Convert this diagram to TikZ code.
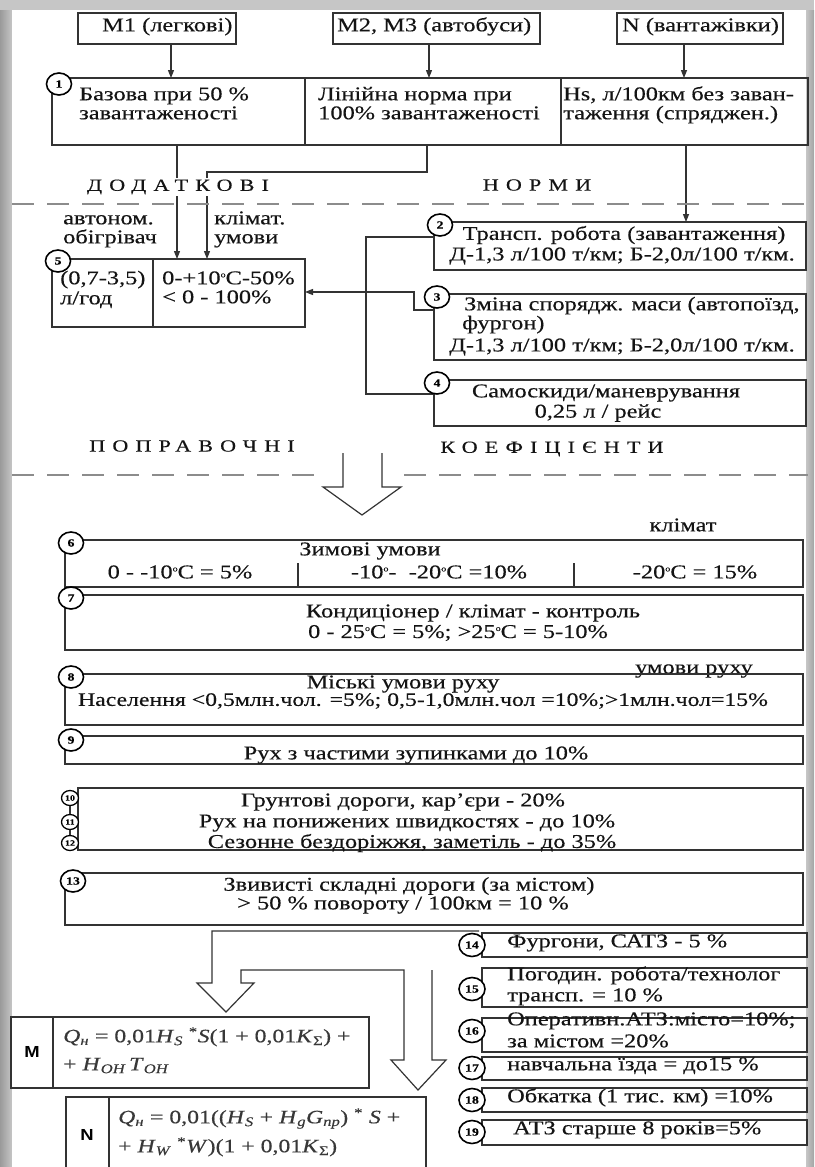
\documentclass[tikz,border=0pt]{standalone}
\usepackage{fontspec}
\setmainfont{Liberation Serif}[FakeStretch=1.25, FakeBold=0.3]
\newfontfamily\headfam{Liberation Serif}[FakeStretch=1.3, FakeBold=0.3, LetterSpace=42]
\newfontfamily\sansfam{Liberation Sans}[FakeStretch=1.15]
\usetikzlibrary{shapes.geometric, arrows.meta}

\definecolor{lineclr}{HTML}{333333}
\definecolor{inkclr}{HTML}{141414}
\definecolor{dashclr}{HTML}{8C8C8C}
\definecolor{greyband}{HTML}{C6C6C6}
\definecolor{greydark}{HTML}{9A9A9A}
\definecolor{mathclr}{HTML}{383838}

\newcommand\fsz[1]{\fontsize{#1}{#1}\selectfont}
\newcommand\dgr{\raisebox{7pt}{\fsz{8}o}}
\newcommand\vi[1]{\textit{#1}}
\newcommand\sub[1]{\textsubscript{#1}}
% rectangle node from its top-left and bottom-right corners
\newcommand\frameat[5]{\node[boxnd, anchor=north west,
  minimum width={#4-#2}, minimum height={#5-#3}] (#1) at (#2,#3) {};}

\begin{document}
\begin{tikzpicture}[x=1pt, y=-1pt,
  ln/.style={draw=lineclr, line width=1.3pt},
  arr/.style={ln, -{Triangle[length=8pt, width=6pt]}},
  boxnd/.style={ln, rectangle, inner sep=0pt, outer sep=0pt},
  num/.style={ellipse, draw=black, line width=1.6pt, fill=white,
    minimum width=25pt, minimum height=22pt, inner sep=0pt,
    font=\fsz{11}\bfseries},
  snum/.style={num, minimum width=17pt, minimum height=15pt,
    line width=1.3pt, font=\fsz{8}\bfseries},
  rnum/.style={num, minimum width=26pt, minimum height=23pt,
    font=\fsz{11}\bfseries},
  tx/.style={inner sep=0pt, text=inkclr, font=\fsz{19.5}},
  rtx/.style={inner sep=0pt, text=inkclr, font=\fsz{19.5}},
  mtx/.style={inner sep=0pt, text=mathclr, font=\fsz{19}},
  hd/.style={inner sep=2pt, fill=white, text=inkclr, font=\headfam\fsz{17}},
  sep/.style={draw=dashclr, line width=1.5pt, dash pattern=on 22pt off 13pt},
  hollow/.style={draw=lineclr, line width=1.2pt, line join=miter},
]
\useasboundingbox (0,0) rectangle (814,1167);

% page background with grey edges
\fill[greyband] (0,0) rectangle (814,1167);
\shade[left color=greydark, right color=greyband] (0,10) rectangle (12,1167);
\shade[left color=greyband, right color=greydark!90] (806,10) rectangle (814,1167);
\fill[white] (12,10) rectangle (806,1167);

% ---------- vehicle categories ----------
\frameat{m1}{78}{13}{236}{44}
\frameat{m2}{333}{13}{540}{44}
\frameat{nn}{617}{13}{783}{44}
\node[tx, anchor=mid west] (m1t) at (102,29) {M1 (легкові)};
\node[tx, anchor=mid west] (m2t) at (337,29) {M2, M3 (автобуси)};
\node[tx, anchor=mid west] (nnt) at (622,29) {N (вантажівки)};

% ---------- base norms ----------
\frameat{b1}{52}{78}{808}{145}
\draw[ln] (305,78) -- (305,145);
\draw[ln] (561,78) -- (561,145);
\node[num] (c1) at (59,84) {1};
\node[tx, anchor=mid west] (b1a) at (79,98) {Базова при 50 \%};
\node[tx, anchor=mid west] (b1b) at (79,117) {завантаженості};
\node[tx, anchor=mid west] (b1c) at (318,98) {Лінійна норма при};
\node[tx, anchor=mid west] (b1d) at (318,117) {100\% завантаженості};
\node[tx, anchor=mid west] (b1e) at (563,98) {Hs, л/100км без заван-};
\node[tx, anchor=mid west] (b1f) at (563,117) {таження (спряджен.)};

\coordinate (xa) at (171,0);
\coordinate (xb) at (429,0);
\coordinate (xc) at (684,0);
\draw[arr] (m1.south -| xa) -- (b1.north -| xa);
\draw[arr] (m2.south -| xb) -- (b1.north -| xb);
\draw[arr] (nn.south -| xc) -- (b1.north -| xc);

% ---------- additional norms ----------
\frameat{b5}{52}{259}{305}{327}
\draw[ln] (153,259) -- (153,327);
\frameat{b2}{434}{222}{806}{270}
\frameat{b3}{434}{294}{806}{360}
\frameat{b4}{434}{380}{806}{426}

\coordinate (xd) at (177,0);
\coordinate (xe) at (427,0);
\coordinate (xf) at (207,0);
\coordinate (xg) at (686,0);
\coordinate (ya) at (0,172);
\draw[arr] (b1.south -| xd) -- (b5.north -| xd);
\draw[arr] (b1.south -| xe) -- (xe |- ya) -- (xf |- ya) -- (b5.north -| xf);
\draw[arr] (b1.south -| xg) -- (b2.north -| xg);

\coordinate (br1) at (366,237);
\coordinate (br2) at (366,394);
\draw[ln] (b2.west |- br1) -- (br1) -- (br2) -- (b4.west |- br2);
\coordinate (ar1) at (414,310);
\coordinate (ar2) at (414,292);
\draw[arr] (b3.west |- ar1) -- (ar1) -- (ar2) -- (b5.east |- ar2);

\node[hd] (h1) at (178,187) {ДОДАТКОВІ};
\node[hd] (h2) at (537,185) {НОРМИ};
\draw[sep] (12,204) -- (808,204);

\node[tx, anchor=mid west] (l1) at (63,222) {автоном.};
\node[tx, anchor=mid west] (l2) at (63,241) {обігрівач};
\node[tx, anchor=mid west] (l3) at (214,222) {клімат.};
\node[tx, anchor=mid west] (l4) at (214,241) {умови};

\node[num] (c5) at (58,261) {5};
\node[tx, anchor=mid west] (b5a) at (60,282) {(0,7-3,5)};
\node[tx, anchor=mid west] (b5b) at (60,302) {л/год};
\node[tx, anchor=mid west] (b5c) at (162,282) {0-+10\dgr C-50\%};
\node[tx, anchor=mid west] (b5d) at (162,301) {< 0 - 100\%};

\node[num] (c2) at (440,225) {2};
\node[tx] (b2a) at (624,235) {Трансп. робота (завантаження)};
\node[tx] (b2b) at (622,256) {Д-1,3 л/100 т/км; Б-2,0л/100 т/км.};
\node[num] (c3) at (437,297) {3};
\node[tx, anchor=mid west] (b3a) at (464,308) {Зміна спорядж. маси (автопоїзд,};
\node[tx, anchor=mid west] (b3b) at (462,327) {фургон)};
\node[tx] (b3c) at (622,347) {Д-1,3 л/100 т/км; Б-2,0л/100 т/км.};
\node[num] (c4) at (437,383) {4};
\node[tx] (b4a) at (606,393) {Самоскиди/маневрування};
\node[tx] (b4b) at (598,413) {0,25 л / рейс};

% ---------- correction factors ----------
\node[hd] (h3) at (192,446) {ПОПРАВОЧНІ};
\node[hd] (h4) at (552,449) {КОЕФІЦІЄНТИ};
\draw[sep] (12,475) -- (318,475);
\draw[sep] (404,475) -- (808,475);
\draw[hollow] (343,453) -- (343,487) -- (323,487) -- (362,515)
  -- (401,487) -- (382,487) -- (382,453);

\node[tx] (k1) at (683,525) {клімат};
\frameat{b6}{65}{540}{803}{587}
\draw[ln] (298,563) -- (298,587);
\draw[ln] (574,563) -- (574,587);
\node[num] (c6) at (71,543) {6};
\node[tx] (b6a) at (370,551) {Зимові умови};
\node[tx] (b6b) at (180,572) {0 - -10\dgr C = 5\%};
\node[tx] (b6c) at (439,572) {-10\dgr- \ -20\dgr C =10\%};
\node[tx] (b6d) at (695,572) {-20\dgr C = 15\%};

\frameat{b7}{65}{595}{803}{650}
\node[num] (c7) at (71,598) {7};
\node[tx] (b7a) at (473,613) {Кондиціонер / клімат - контроль};
\node[tx] (b7b) at (458,633) {0 - 25\dgr C = 5\%; >25\dgr C = 5-10\%};

\node[tx] (k2) at (694,671) {умови руху};
\frameat{b8}{65}{674}{803}{725}
\node[num] (c8) at (71,677) {8};
\node[tx] (b8a) at (403,684) {Міські умови руху};
\node[tx, font=\fsz{19}] (b8b) at (423,701) {Населення <0,5млн.чол. =5\%; 0,5-1,0млн.чол =10\%;>1млн.чол=15\%};

\frameat{b9}{65}{736}{803}{764}
\node[num] (c9) at (71,740) {9};
\node[tx] (b9a) at (416,755) {Рух з частими зупинками до 10\%};

\frameat{b10}{78}{788}{803}{850}
\node[snum] (c10) at (70,798) {10};
\node[snum] (c11) at (70,822) {11};
\node[snum] (c12) at (70,843) {12};
\draw[ln] (c10) -- (c11);
\draw[ln] (c11) -- (c12);
\node[tx] (b10a) at (403,802) {Грунтові дороги, кар’єри - 20\%};
\node[tx] (b10b) at (407,823) {Рух на понижених швидкостях - до 10\%};
\node[tx] (b10c) at (412,843) {Сезонне бездоріжжя, заметіль - до 35\%};

\frameat{b13}{65}{873}{803}{925}
\node[num] (c13) at (73,881) {13};
\node[tx] (b13a) at (409,886) {Звивисті складні дороги (за містом)};
\node[tx] (b13b) at (403,905) {> 50 \% повороту / 100км = 10 \%};

% ---------- resulting formulas ----------
\draw[hollow] (479,931) -- (212,931) -- (212,983) -- (197,983) -- (226,1012)
  -- (254,983) -- (241,983) -- (241,970) -- (404,970) -- (404,1060)
  -- (391,1060) -- (418,1090) -- (446,1060) -- (432,1060) -- (432,970);

\frameat{fm}{11}{1017}{369}{1088}
\draw[ln] (53,1017) -- (53,1088);
\node[inner sep=0pt, font=\sansfam\bfseries\fsz{16}] (fml) at (32,1052) {M};
\node[mtx, anchor=mid west] (fm1) at (63,1040)
  {\vi{Q}\sub{\vi{н}} = 0,01\vi{H}\sub{\vi{S}} \textsuperscript{*}\vi{S}(1 + 0,01\vi{K}\sub{Σ}) +};
\node[mtx, anchor=mid west] (fm2) at (63,1068)
  {+ \vi{H}\sub{\vi{ОН}}\,\vi{T}\sub{\vi{ОН}}};

\frameat{fn}{66}{1097}{426}{1185}
\draw[ln] (109,1097) -- (109,1185);
\node[inner sep=0pt, font=\sansfam\bfseries\fsz{16}] (fnl) at (87,1135) {N};
\node[mtx, anchor=mid west] (fn1) at (118,1121)
  {\vi{Q}\sub{\vi{н}} = 0,01((\vi{H}\sub{\vi{S}} + \vi{H}\sub{\vi{g}}\vi{G}\sub{\vi{np}}) \textsuperscript{*} \vi{S} +};
\node[mtx, anchor=mid west] (fn2) at (118,1150)
  {+ \vi{H}\sub{\vi{W}} \textsuperscript{*}\vi{W})(1 + 0,01\vi{K}\sub{Σ})};

% ---------- vehicle-specific factors ----------
\frameat{r14}{482}{933}{807}{957}
\frameat{r15}{482}{968}{807}{1007}
\frameat{r16}{482}{1018}{807}{1052}
\frameat{r17}{482}{1057}{807}{1080}
\frameat{r18}{482}{1088}{807}{1112}
\frameat{r19}{482}{1120}{807}{1145}
\node[rnum] (c14) at (472,945) {14};
\node[rnum] (c15) at (472,989) {15};
\node[rnum] (c16) at (472,1031) {16};
\node[rnum] (c17) at (472,1068) {17};
\node[rnum] (c18) at (472,1100) {18};
\node[rnum] (c19) at (472,1132) {19};
\node[rtx, anchor=mid west] (r14a) at (507,945) {Фургони, САТЗ - 5 \%};
\node[rtx, anchor=mid west] (r15a) at (507,978) {Погодин. робота/технолог};
\node[rtx, anchor=mid west] (r15b) at (507,999) {трансп. = 10 \%};
\node[rtx, anchor=mid west] (r16a) at (507,1023) {Оперативн.АТЗ:місто=10\%;};
\node[rtx, anchor=mid west] (r16b) at (507,1045) {за містом =20\%};
\node[rtx, anchor=mid west] (r17a) at (507,1068) {навчальна їзда = до15 \%};
\node[rtx, anchor=mid west] (r18a) at (507,1100) {Обкатка (1 тис. км) =10\%};
\node[rtx, anchor=mid west] (r19a) at (513,1132) {АТЗ старше 8 років=5\%};
\end{tikzpicture}
\end{document}
